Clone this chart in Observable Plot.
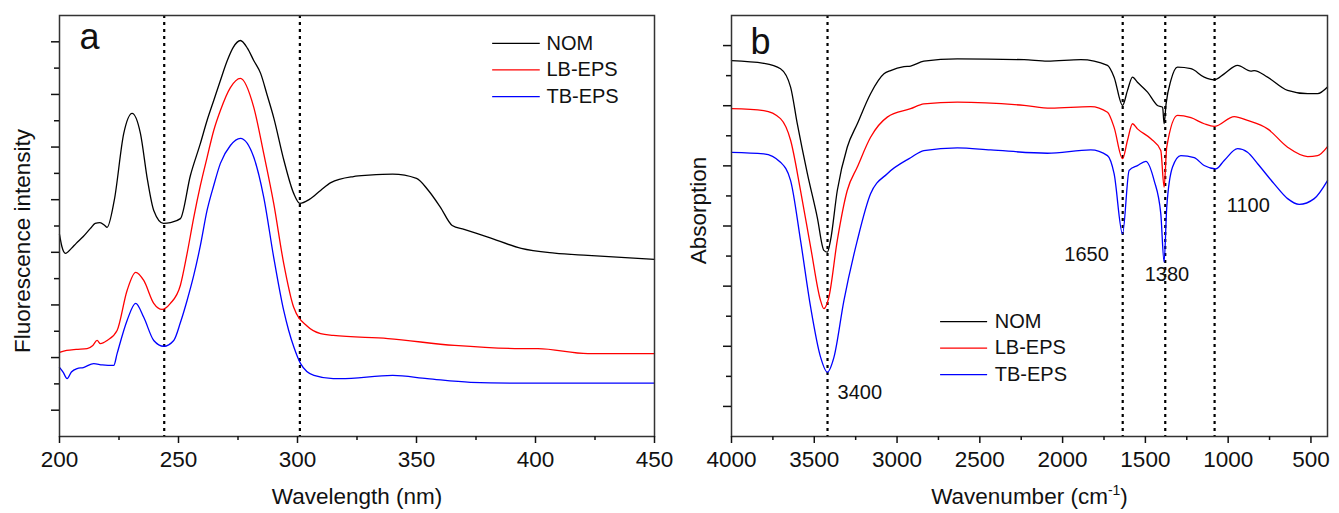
<!DOCTYPE html>
<html><head><meta charset="utf-8">
<script src="https://cdn.jsdelivr.net/npm/d3@7"></script>
<script src="https://cdn.jsdelivr.net/npm/@observablehq/plot@0.6"></script>
<style>
body{margin:0;background:#fff;}
#wrap{display:flex;width:1339px;height:513px;background:#fff;}
#wrap svg{overflow:visible;}
</style></head><body><div id="wrap"></div>
<script>
const FONT = '"Liberation Sans", Arial, sans-serif';
const seriesNames = ["NOM", "LB-EPS", "TB-EPS"];
const seriesColors = ["#000000", "#ff0000", "#0000ff"];

// ---- Panel a: fluorescence (wavelength nm, intensity a.u.)
const nomA = [[200,7.68],[201,7.22],[202.5,6.96],[205,7.15],[207,7.34],[210,7.60],[213,7.91],[215,8.10],[217,8.13],[219,8.02],[220,7.95],[223,8.97],[227,11.52],[230.5,12.28],[234,11.52],[237,9.73],[239.6,8.59],[243.7,8.10],[246.6,8.13],[250.8,8.28],[255,9.92],[259.2,11.14],[262,12.01],[264.8,12.77],[267.6,13.53],[270.5,14.29],[273,14.79],[276,15.05],[279,14.75],[281.6,14.29],[284.5,13.80],[287.3,12.96],[290,12.12],[294.3,10.49],[298.4,9.24],[301,8.86],[305,9.01],[309.7,9.35],[314,9.65],[323.5,9.88],[330,9.93],[340,9.97],[350,9.81],[355,9.35],[360,8.72],[365,8.02],[370,7.87],[380,7.58],[394,7.15],[408,6.97],[422,6.88],[450,6.73]];
const lbA = [[200,3.20],[203,3.27],[207,3.31],[211.6,3.34],[214,3.46],[215.8,3.65],[217.2,3.53],[220,3.65],[224.2,4.03],[228.4,5.55],[232,6.24],[235.4,5.93],[239.6,5.06],[243.1,4.83],[246.6,5.06],[250.8,5.75],[253.6,6.95],[256.4,8.32],[259.2,9.54],[262,10.60],[264.8,11.63],[267.6,12.39],[271.8,13.26],[276,13.61],[281.6,12.52],[285.8,10.76],[290,8.86],[294.2,6.58],[298.4,4.91],[304,4.20],[309.7,3.91],[315,3.84],[338,3.72],[366,3.46],[394,3.34],[401,3.34],[422,3.15],[450,3.15]];
const tbA = [[200,2.63],[201.5,2.45],[203.2,2.20],[205,2.45],[207.4,2.58],[210,2.62],[214.4,2.77],[218,2.72],[222.8,2.70],[224.2,3.15],[228.4,4.41],[232,5.06],[235.4,4.53],[239.6,3.65],[243.8,3.43],[248,3.65],[250.8,4.33],[253.6,5.17],[256.4,6.12],[259.2,7.26],[262,8.59],[264.8,9.54],[267.6,10.38],[271.8,11.06],[276,11.33],[281.6,10.62],[285.8,9.10],[290,6.81],[294.2,4.79],[296.3,4.03],[298.5,3.39],[301.3,2.77],[306.9,2.32],[315,2.20],[318,2.20],[340,2.32],[354.5,2.20],[372.7,2.06],[394,2.03],[450,2.03]];
const dashA = [244, 301];
const xTicksA = [200, 250, 300, 350, 400, 450];
const xMinorA = [225, 275, 325, 375, 425];

// ---- Panel b: FTIR (wavenumber cm-1, absorption a.u.)
const nomB = [[4000,12.50],[3805,12.41],[3704,12.23],[3643,11.62],[3603,10.41],[3542,8.75],[3482,7.29],[3442,6.19],[3421,6.13],[3402,6.52],[3361,8.18],[3301,9.62],[3240,10.40],[3160,11.40],[3079,12.06],[3039,12.17],[2958,12.30],[2918,12.32],[2838,12.48],[2636,12.56],[2233,12.53],[2092,12.48],[1890,12.53],[1729,12.34],[1689,11.95],[1638,11.01],[1608,11.51],[1578,11.95],[1548,11.78],[1487,11.45],[1427,11.01],[1396,10.95],[1387,10.40],[1375,11.06],[1346,11.84],[1306,12.28],[1225,12.23],[1145,11.95],[1084,11.86],[1024,12.06],[943,12.34],[863,12.15],[843,12.17],[762,11.95],[641,11.51],[520,11.40],[460,11.40],[400,11.62]];
const lbB = [[4000,10.90],[3805,10.84],[3704,10.57],[3643,9.85],[3583,8.18],[3522,6.30],[3462,4.52],[3442,4.25],[3412,4.63],[3361,6.52],[3301,8.18],[3240,8.96],[3160,9.95],[3059,10.62],[2918,10.90],[2838,11.06],[2636,11.12],[2233,11.01],[2072,10.92],[1830,10.97],[1729,10.78],[1689,10.28],[1638,9.24],[1608,9.85],[1578,10.40],[1548,10.23],[1467,9.90],[1407,9.51],[1387,8.29],[1371,9.62],[1306,10.68],[1225,10.60],[1145,10.40],[1084,10.31],[963,10.64],[883,10.51],[762,10.23],[641,9.62],[520,9.31],[460,9.34],[400,9.64]];
const tbB = [[4000,9.45],[3805,9.40],[3704,9.12],[3643,8.51],[3583,6.52],[3522,4.30],[3462,2.64],[3421,2.14],[3381,2.64],[3321,4.52],[3240,6.52],[3160,8.07],[3059,8.74],[2918,9.27],[2838,9.51],[2636,9.60],[2435,9.53],[2092,9.42],[1830,9.53],[1729,9.34],[1689,8.74],[1638,6.74],[1598,8.85],[1548,9.01],[1497,9.15],[1447,8.51],[1407,7.41],[1387,5.80],[1371,7.62],[1336,8.96],[1286,9.34],[1205,9.27],[1145,9.01],[1074,8.90],[1024,9.18],[943,9.57],[883,9.45],[822,9.07],[722,8.40],[641,7.91],[571,7.72],[480,7.91],[400,8.51]];
const dashB = [3420, 1637, 1380, 1082];
const peakLabels = ["3400", "1650", "1380", "1100"];
const peakLabelX = [3359, 1721, 1370, 1008];
const peakLabelY = [1.45, 6.05, 5.40, 7.68];
const peakLabelAnchor = ["start", "end", "middle", "start"];
const xTicksB = [4000, 3500, 3000, 2500, 2000, 1500, 1000, 500];
const xMinorB = [3750, 3250, 2750, 2250, 1750, 1250, 750];

function rows(list) {
  return list.flatMap((pts, i) => pts.map(([x, y]) => ({x, y, s: seriesNames[i]})));
}

function panel(opts) {
  const {width, marginLeft, marginRight, xDomain, yMax, data, dashes, xTicks, xMinor,
         xLabel, yLabel, yLabelDx, yLabelDy, letter, letterDx, letterDy, legend, extra} = opts;
  const yMajor = d3.range(1, yMax, 2);
  const yMinor = d3.range(2, yMax, 2);
  const leg = seriesNames.map((s, i) => ({s, y: legend.y0 - i * legend.step}));
  return Plot.plot({
    width, height: 513,
    marginLeft, marginRight, marginTop: 15, marginBottom: 77,
    style: {fontFamily: FONT, fontSize: "22px", color: "#111", background: "transparent", overflow: "visible"},
    x: {domain: xDomain},
    y: {domain: [0, yMax]},
    color: {domain: seriesNames, range: seriesColors},
    marks: [
      Plot.ruleX(dashes, {stroke: "#000", strokeWidth: 2.2, strokeDasharray: "3,4"}),
      Plot.line(data, {x: "x", y: "y", z: "s", stroke: "s", strokeWidth: 1.3, curve: "monotone-x"}),
      Plot.frame({stroke: "#333", strokeWidth: 1.5}),
      Plot.axisX(xTicks, {tickSize: 7, tickPadding: 8, strokeWidth: 1.5, fontSize: 22.5, label: null, tickFormat: d => String(d)}),
      Plot.axisX(xMinor, {tickSize: 4, strokeWidth: 1.5, label: null, tickFormat: () => ""}),
      Plot.axisY(yMajor, {tickSize: 8, strokeWidth: 1.5, label: null, tickFormat: () => ""}),
      Plot.axisY(yMinor, {tickSize: 5, strokeWidth: 1.5, label: null, tickFormat: () => ""}),
      Plot.text([xLabel], {frameAnchor: "bottom", textAnchor: "middle", lineAnchor: "middle", dy: 60.5, fontSize: 22.5}),
      Plot.text([yLabel], {frameAnchor: "left", textAnchor: "middle", lineAnchor: "middle", dx: yLabelDx, dy: yLabelDy, rotate: -90, fontSize: 22.5}),
      Plot.text([letter], {frameAnchor: "top-left", textAnchor: "start", lineAnchor: "middle", dx: letterDx, dy: letterDy, fontSize: 36}),
      Plot.ruleY(leg, {y: "y", x1: legend.x1, x2: legend.x2, stroke: "s", strokeWidth: 1.3}),
      Plot.text(leg, {x: legend.xt, y: "y", text: "s", textAnchor: "start", fontSize: 20, fill: "#111"}),
      ...(extra || [])
    ]
  });
}

const plotA = panel({
  width: 669, marginLeft: 59, marginRight: 15,
  xDomain: [200, 450], yMax: 16, data: rows([nomA, lbA, tbA]), dashes: dashA,
  xTicks: xTicksA, xMinor: xMinorA,
  xLabel: "Wavelength (nm)", yLabel: "Fluorescence intensity", yLabelDx: -36.5, yLabelDy: 15,
  letter: "a", letterDx: 20, letterDy: 22,
  legend: {x1: 382, x2: 402, xt: 404.6, y0: 14.94, step: 1.01}
});

const peakRows = peakLabels.map((t, i) => ({t, x: peakLabelX[i], y: peakLabelY[i], a: peakLabelAnchor[i]}));
const plotB = panel({
  width: 670, marginLeft: 62, marginRight: 12,
  xDomain: [4000, 400], yMax: 14, data: rows([nomB, lbB, tbB]), dashes: dashB,
  xTicks: xTicksB, xMinor: xMinorB,
  xLabel: "Wavenumber (cm-1)", yLabel: "Absorption", yLabelDx: -33, yLabelDy: -15.5,
  letter: "b", letterDx: 19, letterDy: 27,
  legend: {x1: 2737, x2: 2453, xt: 2410, y0: 3.82, step: 0.88},
  extra: ["start", "end", "middle"].map(anchor =>
    Plot.text(peakRows.filter(d => d.a === anchor),
      {x: "x", y: "y", text: "t", fontSize: 20, fill: "#111", textAnchor: anchor}))
});

document.getElementById("wrap").append(plotA, plotB);

// superscript for cm-1
plotB.querySelectorAll("text").forEach(t => {
  if (t.textContent === "Wavenumber (cm-1)") {
    t.textContent = "";
    const ns = "http://www.w3.org/2000/svg";
    const a = document.createElementNS(ns, "tspan"); a.textContent = "Wavenumber (cm";
    const b = document.createElementNS(ns, "tspan"); b.textContent = "-1"; b.setAttribute("font-size", "14"); b.setAttribute("dy", "-9");
    const c = document.createElementNS(ns, "tspan"); c.textContent = ")"; c.setAttribute("dy", "9");
    t.append(a, b, c);
  }
});
</script></body></html>
